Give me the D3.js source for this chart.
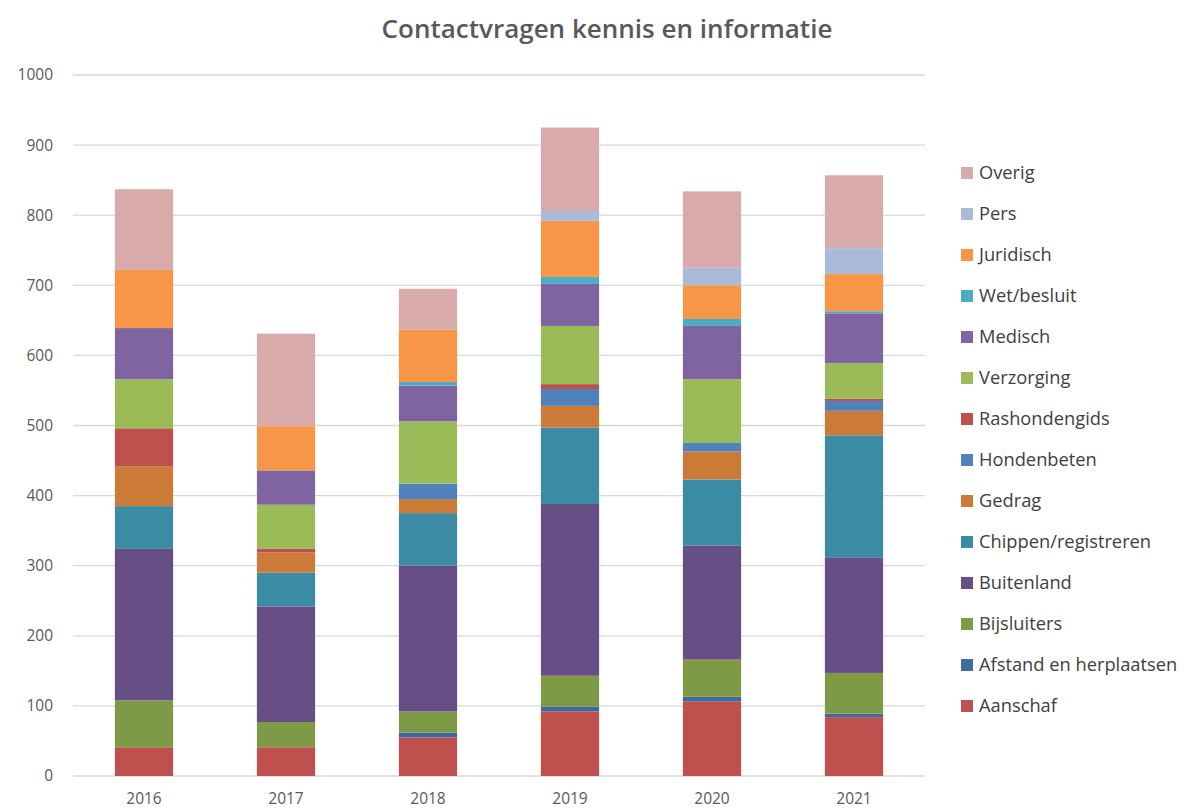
<html>
<script src="https://d3js.org/d3.v7.min.js"></script>
<style>
  body { margin: 0; background: #fff; }
  .grid line { stroke: #d9d9d9; stroke-width: 1.3px; }
  .legend text { font-family: "Open Sans", sans-serif; font-size: 18.3px; fill: #404040; dominant-baseline: middle; }
</style>
<body>
<svg width="1200" height="809"></svg>
<script>
// categories (bottom to top of stack)
var categories = ["Aanschaf", "Afstand en herplaatsen", "Bijsluiters", "Buitenland",
  "Chippen/registreren", "Gedrag", "Hondenbeten", "Rashondengids", "Verzorging",
  "Medisch", "Wet/besluit", "Juridisch", "Pers", "Overig"];
var years = ["2016", "2017", "2018", "2019", "2020", "2021"];
var colors = ["#c0504d", "#41699b", "#7f9a46", "#674f86", "#3a8ba3", "#cb7a38", "#4f81bd",
  "#c0504d", "#9bbb59", "#8064a2", "#4bacc6", "#f79646", "#a9bbd9", "#d9aaaa"];
var yTicks = [0, 100, 200, 300, 400, 500, 600, 700, 800, 900, 1000];

// values per category, one per year
var aanschaf      = [41, 41, 55, 92, 106, 84];
var afstand       = [0, 0, 7, 7, 7, 5];
var bijsluiters   = [67, 36, 30, 44, 53, 58];
var buitenland    = [216, 165, 208, 245, 163, 165];
var chippen       = [61, 48, 75, 109, 94, 174];
var gedrag        = [57, 29, 20, 31, 40, 35];
var hondenbeten   = [0, 0, 22, 24, 12, 14];
var rashondengids = [54, 5, 0, 7, 0, 3];
var verzorging    = [70, 63, 89, 83, 91, 51];
var medisch       = [73, 49, 51, 60, 76, 71];
var wetbesluit    = [0, 0, 5, 10, 10, 3];
var juridisch     = [83, 63, 75, 80, 48, 53];
var pers          = [0, 0, 0, 14, 25, 37];
var overig        = [115, 132, 58, 119, 109, 104];

var series = [aanschaf, afstand, bijsluiters, buitenland, chippen, gedrag, hondenbeten,
  rashondengids, verzorging, medisch, wetbesluit, juridisch, pers, overig];

var rows = years.map(function(yr, i) {
  var r = { year: yr };
  categories.forEach(function(c, j) { r[c] = series[j][i]; });
  return r;
});

var svg = d3.select("svg");
var x = d3.scaleBand().domain(years).range([73, 925]).paddingInner(0.59).paddingOuter(0.295);
var y = d3.scaleLinear().domain([0, 1000]).range([776, 75]);
var color = d3.scaleOrdinal().domain(categories).range(colors);

// title
svg.append("text")
  .attr("x", 607).attr("y", 38)
  .attr("text-anchor", "middle")
  .style("font-family", "'Open Sans', sans-serif")
  .style("font-size", "26px")
  .style("font-weight", "600")
  .style("fill", "#595959")
  .text("Contactvragen kennis en informatie");

// gridlines
svg.append("g").attr("class", "grid")
  .selectAll("line").data(yTicks).enter().append("line")
  .attr("x1", 73).attr("x2", 925)
  .attr("y1", function(d) { return y(d); })
  .attr("y2", function(d) { return y(d); });

// y axis labels
var yAxis = svg.append("g")
  .attr("transform", "translate(73,0)")
  .call(d3.axisLeft(y).tickValues(yTicks).tickFormat(d3.format("d")).tickSize(0).tickPadding(20));
yAxis.select(".domain").remove();
yAxis.selectAll("text")
  .style("font-family", "'Open Sans', sans-serif")
  .style("font-size", "15.5px")
  .style("fill", "#595959");

// stacked bars
var stacked = d3.stack().keys(categories)(rows);
svg.append("g").selectAll("g").data(stacked).enter().append("g")
  .attr("fill", function(d) { return color(d.key); })
  .selectAll("rect").data(function(d) { return d; }).enter().append("rect")
  .attr("x", function(d) { return x(d.data.year); })
  .attr("width", x.bandwidth())
  .attr("y", function(d) { return y(d[1]); })
  .attr("height", function(d) { return y(d[0]) - y(d[1]); });

// x axis labels
var xAxis = svg.append("g")
  .attr("transform", "translate(0,776)")
  .call(d3.axisBottom(x).tickSize(0).tickPadding(17));
xAxis.select(".domain").remove();
xAxis.selectAll("text")
  .style("font-family", "'Open Sans', sans-serif")
  .style("font-size", "15.5px")
  .style("fill", "#595959");

// legend, top to bottom reversed
var legendItems = categories.slice().reverse();
var legend = svg.append("g").attr("class", "legend").attr("transform", "translate(961,173)");
legendItems.forEach(function(c, i) {
  var g = legend.append("g").attr("transform", "translate(0," + i * 41 + ")");
  g.append("rect").attr("x", 0).attr("y", -6).attr("width", 12).attr("height", 12).attr("fill", color(c));
  g.append("text").attr("x", 18).attr("y", 1).text(c);
});
</script>
</body>
</html>
